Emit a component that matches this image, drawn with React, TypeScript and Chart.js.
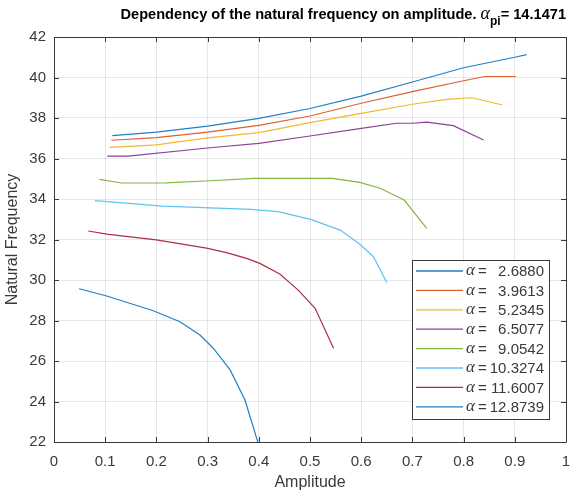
import React, { useEffect, useRef } from "react";
import { Chart, registerables } from "chart.js";

Chart.register(...registerables);

// ---- Data ----
const alphaLabels = ["2.6880", "3.9613", "5.2345", "6.5077", "9.0542", "10.3274", "11.6007", "12.8739"];
const alphaPi = "14.1471";

const amp1 = [0.114, 0.2, 0.3, 0.4, 0.5, 0.6, 0.7, 0.8, 0.9, 0.923];
const freq1 = [37.13, 37.3, 37.6, 37.98, 38.47, 39.08, 39.78, 40.48, 41.0, 41.13];

const amp2 = [0.112, 0.2, 0.3, 0.4, 0.5, 0.6, 0.7, 0.8, 0.842, 0.902];
const freq2 = [36.9, 37.03, 37.3, 37.64, 38.1, 38.73, 39.3, 39.84, 40.05, 40.05];

const amp3 = [0.109, 0.2, 0.3, 0.4, 0.5, 0.6, 0.7, 0.767, 0.816, 0.876];
const freq3 = [36.55, 36.67, 37.02, 37.28, 37.77, 38.23, 38.68, 38.92, 39.0, 38.64];

const amp4 = [0.104, 0.145, 0.305, 0.4, 0.5, 0.6, 0.669, 0.7, 0.728, 0.78, 0.839];
const freq4 = [36.12, 36.12, 36.53, 36.75, 37.11, 37.49, 37.74, 37.74, 37.8, 37.62, 36.91];

const amp5 = [0.089, 0.132, 0.219, 0.305, 0.391, 0.544, 0.597, 0.637, 0.684, 0.728];
const freq5 = [34.97, 34.79, 34.8, 34.9, 35.02, 35.02, 34.82, 34.53, 33.95, 32.55];

const amp6 = [0.08, 0.212, 0.385, 0.438, 0.503, 0.56, 0.598, 0.624, 0.65];
const freq6 = [33.92, 33.65, 33.49, 33.38, 32.98, 32.45, 31.75, 31.15, 29.87];

const amp7 = [0.067, 0.103, 0.2, 0.298, 0.337, 0.376, 0.402, 0.441, 0.477, 0.51, 0.546];
const freq7 = [32.42, 32.27, 31.98, 31.57, 31.35, 31.07, 30.82, 30.3, 29.5, 28.6, 26.63];

const amp8 = [0.049, 0.103, 0.194, 0.246, 0.285, 0.311, 0.344, 0.373, 0.398];
const freq8 = [29.57, 29.21, 28.48, 27.94, 27.28, 26.63, 25.56, 24.07, 22.0];

const ampSeries = [amp1, amp2, amp3, amp4, amp5, amp6, amp7, amp8];
const freqSeries = [freq1, freq2, freq3, freq4, freq5, freq6, freq7, freq8];

const xTickValues = [0, 0.1, 0.2, 0.3, 0.4, 0.5, 0.6, 0.7, 0.8, 0.9, 1];
const yTickValues = [22, 24, 26, 28, 30, 32, 34, 36, 38, 40, 42];

const colors = ["#1f80c8", "#dc6133", "#efb931", "#8c4199", "#84b543", "#5ec4ef", "#ae2e42", "#1f80c8"];

const SANS = '"Liberation Sans", Arial, Helvetica, sans-serif';
const SERIF = '"Liberation Serif", "DejaVu Serif", serif';
const AXIS_COLOR = "#3a3a3a";
const TEXT_COLOR = "#3a3a3a";

const titlePlugin = {
  id: "matlabTitle",
  afterDraw(chart: any) {
    const ctx = chart.ctx;
    ctx.save();
    const main = "Dependency of the natural frequency on amplitude. ";
    const fMain = `bold 14.6px ${SANS}`;
    const fAlpha = `italic 18px ${SERIF}`;
    const fSub = `bold 12px ${SANS}`;
    const rest = "= " + alphaPi;
    ctx.font = fMain;
    const wMain = ctx.measureText(main).width;
    const wRest = ctx.measureText(rest).width;
    ctx.font = fAlpha;
    const wAlpha = ctx.measureText("\u03B1").width;
    ctx.font = fSub;
    const wSub = ctx.measureText("pi").width;
    const total = wMain + wAlpha + wSub + wRest;
    const right = 566;
    let x = right - total;
    const base = 19;
    ctx.fillStyle = "#000";
    ctx.textBaseline = "alphabetic";
    ctx.textAlign = "left";
    ctx.font = fMain;
    ctx.fillText(main, x, base);
    x += wMain;
    ctx.font = fAlpha;
    ctx.fillText("\u03B1", x, base);
    x += wAlpha;
    ctx.font = fSub;
    ctx.fillText("pi", x, base + 6);
    x += wSub;
    ctx.font = fMain;
    ctx.fillText(rest, x, base);
    ctx.restore();
  },
};

const boxPlugin = {
  id: "matlabBox",
  afterDatasetsDraw(chart: any) {
    const { ctx, chartArea, scales } = chart;
    const { left, right, top, bottom } = chartArea;
    ctx.save();
    ctx.strokeStyle = AXIS_COLOR;
    ctx.lineWidth = 1;
    ctx.beginPath();
    ctx.rect(Math.round(left) + 0.5, Math.round(top) + 0.5, Math.round(right - left), Math.round(bottom - top));
    ctx.stroke();
    const tl = 5;
    ctx.beginPath();
    for (const v of xTickValues) {
      const px = Math.round(scales.x.getPixelForValue(v)) + 0.5;
      ctx.moveTo(px, bottom);
      ctx.lineTo(px, bottom - tl);
      ctx.moveTo(px, top);
      ctx.lineTo(px, top + tl);
    }
    for (const v of yTickValues) {
      const py = Math.round(scales.y.getPixelForValue(v)) + 0.5;
      ctx.moveTo(left, py);
      ctx.lineTo(left + tl, py);
      ctx.moveTo(right, py);
      ctx.lineTo(right - tl, py);
    }
    ctx.stroke();

    // legend
    const lx = 412.5, ly = 260.5, lw = 137, lh = 159;
    ctx.fillStyle = "#ffffff";
    ctx.fillRect(lx, ly, lw, lh);
    ctx.strokeStyle = AXIS_COLOR;
    ctx.lineWidth = 1;
    ctx.strokeRect(lx, ly, lw, lh);
    const row0 = 271;
    const dy = 19.4;
    for (let i = 0; i < alphaLabels.length; i++) {
      const y = row0 + i * dy;
      ctx.strokeStyle = colors[i];
      ctx.lineWidth = 1.3;
      ctx.beginPath();
      ctx.moveTo(416, y);
      ctx.lineTo(463, y);
      ctx.stroke();
      ctx.fillStyle = TEXT_COLOR;
      ctx.textBaseline = "middle";
      ctx.textAlign = "left";
      ctx.font = `italic 17px ${SERIF}`;
      ctx.fillText("\u03B1", 466, y);
      const wa = ctx.measureText("\u03B1").width;
      ctx.font = `15px ${SANS}`;
      ctx.fillText("=", 466 + wa + 3, y + 1);
      ctx.textAlign = "right";
      ctx.fillText(alphaLabels[i], 544, y + 1);
    }
    ctx.restore();
  },
};

export default function App() {
  const canvasRef = useRef<HTMLCanvasElement | null>(null);

  useEffect(() => {
    if (!canvasRef.current) return;
    const datasets = ampSeries.map((xs, i) => ({
      label: "\u03B1 = " + alphaLabels[i],
      data: xs.map((x, j) => ({ x, y: freqSeries[i][j] })),
      borderColor: colors[i],
      backgroundColor: colors[i],
      borderWidth: 1.2,
      pointRadius: 0,
      tension: 0,
      fill: false,
    }));
    const chart = new Chart(canvasRef.current, {
      type: "line",
      data: { datasets },
      plugins: [boxPlugin, titlePlugin],
      options: {
        animation: false,
        responsive: false,
        devicePixelRatio: 1,
        layout: { padding: { left: 0, right: 8, top: 37, bottom: 0 } },
        plugins: {
          legend: { display: false },
          title: { display: false },
          tooltip: { enabled: false },
        },
        scales: {
          x: {
            type: "linear",
            min: 0,
            max: 1,
            afterFit: (s: any) => {
              s.height = 50;
              s.paddingLeft = 0;
              s.paddingRight = 0;
            },
            afterBuildTicks: (s: any) => {
              s.ticks = xTickValues.map((v) => ({ value: v }));
            },
            ticks: {
              color: TEXT_COLOR,
              font: { family: SANS, size: 15 },
              padding: 11,
              maxRotation: 0,
              autoSkip: false,
              callback: (v: any) => String(Number(Number(v).toFixed(1))),
            },
            grid: { color: "rgba(38,38,38,0.11)", drawTicks: false, lineWidth: 1 },
            border: { display: false },
            title: {
              display: true,
              text: "Amplitude",
              color: TEXT_COLOR,
              font: { family: SANS, size: 16 },
              padding: { top: 0, bottom: 0 },
            },
          },
          y: {
            type: "linear",
            min: 22,
            max: 42,
            afterFit: (s: any) => {
              s.width = 54;
              s.paddingTop = 0;
              s.paddingBottom = 0;
            },
            afterBuildTicks: (s: any) => {
              s.ticks = yTickValues.map((v) => ({ value: v }));
            },
            ticks: {
              color: TEXT_COLOR,
              font: { family: SANS, size: 15 },
              padding: 8,
              autoSkip: false,
              callback: (v: any) => String(v),
            },
            grid: { color: "rgba(38,38,38,0.11)", drawTicks: false, lineWidth: 1 },
            border: { display: false },
            title: {
              display: true,
              text: "Natural Frequency",
              color: TEXT_COLOR,
              font: { family: SANS, size: 16 },
              padding: { top: 3, bottom: 0 },
            },
          },
        },
      },
    } as any);
    return () => chart.destroy();
  }, []);

  return (
    <div style={{ position: "absolute", left: 0, top: 0, width: 574, height: 492, background: "#fff" }}>
      <canvas ref={canvasRef} width={574} height={492} style={{ display: "block", width: 574, height: 492 }} />
    </div>
  );
}
